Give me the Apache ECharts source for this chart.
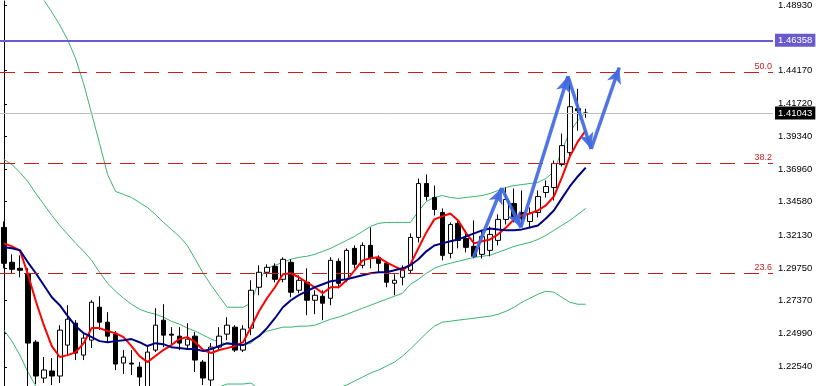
<!DOCTYPE html>
<html><head><meta charset="utf-8">
<script src="https://cdn.jsdelivr.net/npm/echarts@6/dist/echarts.min.js"></script>
<style>html,body{margin:0;padding:0;background:#fff}#c{width:816px;height:386px}</style>
</head><body><div id="c"></div>
<script>
// candles: [open, close, low, high]
const candles = [
[1.32705,1.30085,1.29722,1.33141],[1.30158,1.29649,1.29358,1.30740],[1.29722,1.29576,1.29067,1.30667],
[1.29358,1.24265,1.20990,1.29722],[1.24337,1.21864,1.21282,1.24483],[1.21718,1.22300,1.21354,1.23246],
[1.22227,1.21864,1.21209,1.23173],[1.21864,1.25211,1.21354,1.25574],[1.24119,1.26011,1.23392,1.27030],
[1.25719,1.23537,1.23028,1.25938],[1.23392,1.24628,1.23028,1.24920],[1.24483,1.27248,1.23901,1.27393],
[1.26884,1.25793,1.25211,1.27684],[1.25793,1.24774,1.24337,1.26520],[1.24920,1.22737,1.22300,1.25138],
[1.22810,1.23246,1.22009,1.23755],[1.22810,1.22737,1.21936,1.23755],[1.22518,1.21791,1.21136,1.22882],
[1.20990,1.23610,1.20845,1.24119],[1.23755,1.25574,1.23610,1.26811],[1.25938,1.24847,1.23974,1.27102],
[1.24920,1.24847,1.24119,1.25429],[1.24774,1.24265,1.23755,1.25429],[1.24119,1.24556,1.23901,1.25719],
[1.24774,1.23028,1.22155,1.25065],[1.22882,1.21718,1.21209,1.23028],[1.21573,1.23974,1.21136,1.24265],
[1.23974,1.24774,1.23683,1.25429],[1.24920,1.25574,1.24483,1.26156],[1.25429,1.23755,1.23610,1.25574],
[1.23755,1.25283,1.23610,1.25574],[1.25356,1.28121,1.24847,1.28849],[1.28339,1.29431,1.27757,1.29940],
[1.29431,1.29794,1.29067,1.30013],[1.29867,1.28921,1.28703,1.30085],[1.28921,1.30376,1.28703,1.30522],
[1.30158,1.27975,1.27612,1.30376],[1.28121,1.28849,1.27903,1.29212],[1.28703,1.27393,1.26302,1.29722],
[1.27393,1.27757,1.26375,1.28121],[1.27684,1.27175,1.25938,1.28121],[1.27539,1.30304,1.27030,1.30522],
[1.30231,1.28630,1.28266,1.30449],[1.28921,1.31031,1.28703,1.31177],[1.31177,1.30013,1.29722,1.31395],
[1.29940,1.31395,1.29722,1.31613],[1.31395,1.30449,1.29722,1.32705],[1.30522,1.30085,1.29431,1.30667],
[1.30085,1.28703,1.28339,1.30231],[1.28630,1.28849,1.27757,1.29285],[1.29067,1.29576,1.28485,1.29940],
[1.29576,1.31977,1.29358,1.32268],[1.31977,1.35906,1.31613,1.36270],[1.35906,1.34960,1.34669,1.36561],
[1.34887,1.34014,1.33578,1.35761],[1.33796,1.30667,1.30304,1.34087],[1.30813,1.32923,1.30449,1.33069],
[1.32996,1.31759,1.31177,1.33287],[1.31904,1.31250,1.30886,1.32486],[1.31322,1.30595,1.30449,1.33214],
[1.30740,1.32050,1.30449,1.32486],[1.31031,1.32195,1.30595,1.32778],[1.31759,1.33287,1.31395,1.33651],
[1.33287,1.34742,1.32923,1.35615],[1.34451,1.33432,1.33069,1.35542],[1.33796,1.33360,1.32778,1.35397],
[1.33141,1.33723,1.32632,1.34160],[1.33796,1.34960,1.33432,1.35397],[1.35251,1.35688,1.34887,1.36124],
[1.35615,1.37361,1.34669,1.37580],[1.37289,1.38671,1.37143,1.39544],[1.38162,1.41509,1.37798,1.43546],
[1.41363,1.41217,1.39762,1.42818],[1.41050,1.41043,1.40708,1.41363]
];
const maFast = [1.3154,1.3132,1.3103,1.2929,1.2732,1.2557,1.2405,1.2325,1.2339,1.2361,1.2426,1.2536,1.2536,1.2514,1.2499,1.2470,1.2405,1.2332,1.2288,1.2332,1.2376,1.2412,1.2456,1.2470,1.2433,1.2376,1.2354,1.2376,1.2390,1.2405,1.2433,1.2543,1.2659,1.2754,1.2834,1.2929,1.2936,1.2907,1.2870,1.2834,1.2790,1.2834,1.2834,1.2885,1.2958,1.3030,1.3045,1.3052,1.3016,1.2987,1.2958,1.3001,1.3118,1.3234,1.3329,1.3351,1.3372,1.3321,1.3227,1.3154,1.3169,1.3183,1.3220,1.3270,1.3329,1.3358,1.3372,1.3394,1.3431,1.3496,1.3634,1.3787,1.3896,1.3976];
const maSlow = [1.3125,1.3118,1.3103,1.3016,1.2936,1.2849,1.2761,1.2703,1.2623,1.2550,1.2499,1.2470,1.2441,1.2433,1.2441,1.2448,1.2456,1.2433,1.2405,1.2426,1.2419,1.2397,1.2390,1.2383,1.2383,1.2368,1.2383,1.2405,1.2426,1.2419,1.2412,1.2441,1.2477,1.2536,1.2608,1.2688,1.2739,1.2776,1.2805,1.2834,1.2856,1.2878,1.2885,1.2892,1.2907,1.2921,1.2936,1.2943,1.2943,1.2958,1.2972,1.2994,1.3038,1.3096,1.3139,1.3154,1.3169,1.3183,1.3205,1.3227,1.3249,1.3263,1.3256,1.3249,1.3249,1.3256,1.3270,1.3285,1.3336,1.3394,1.3482,1.3569,1.3642,1.3707];
const bbUpper = [1.5024,1.5053,1.5068,1.5053,1.5002,1.4929,1.4842,1.4747,1.4638,1.4500,1.4318,1.4100,1.3882,1.3656,1.3533,1.3511,1.3489,1.3452,1.3416,1.3365,1.3307,1.3256,1.3205,1.3139,1.3038,1.2936,1.2849,1.2768,1.2688,1.2688,1.2688,1.2718,1.2885,1.2972,1.2994,1.3016,1.3038,1.3052,1.3060,1.3074,1.3096,1.3118,1.3147,1.3176,1.3205,1.3241,1.3278,1.3300,1.3307,1.3307,1.3307,1.3307,1.3387,1.3460,1.3489,1.3503,1.3489,1.3482,1.3489,1.3496,1.3503,1.3518,1.3540,1.3562,1.3576,1.3583,1.3591,1.3598,1.3627,1.3678,1.3831,1.3969,1.4049,1.4107];
const bbMiddle = [1.3765,1.3729,1.3671,1.3605,1.3518,1.3438,1.3358,1.3285,1.3220,1.3154,1.3096,1.3030,1.2943,1.2863,1.2805,1.2754,1.2710,1.2674,1.2652,1.2637,1.2616,1.2586,1.2565,1.2536,1.2514,1.2485,1.2456,1.2433,1.2419,1.2412,1.2412,1.2426,1.2485,1.2514,1.2528,1.2543,1.2543,1.2550,1.2550,1.2557,1.2579,1.2601,1.2616,1.2637,1.2659,1.2681,1.2703,1.2725,1.2747,1.2768,1.2790,1.2856,1.2892,1.2936,1.2972,1.2994,1.3009,1.3023,1.3038,1.3052,1.3060,1.3067,1.3089,1.3110,1.3132,1.3147,1.3161,1.3183,1.3212,1.3249,1.3285,1.3321,1.3365,1.3409];
const bbLower = [1.2521,1.2441,1.2339,1.2215,1.2113,1.1946,1.1874,1.1823,1.1801,1.1808,1.1874,1.1961,1.2004,1.2048,1.2063,1.2012,1.1954,1.1910,1.1895,1.1910,1.1924,1.1924,1.1932,1.1954,1.1997,1.2041,1.2077,1.2106,1.2128,1.2128,1.2128,1.2135,1.2092,1.2063,1.2063,1.2063,1.2048,1.2048,1.2041,1.2041,1.2063,1.2085,1.2099,1.2121,1.2150,1.2179,1.2208,1.2230,1.2259,1.2288,1.2332,1.2383,1.2441,1.2499,1.2550,1.2579,1.2586,1.2594,1.2601,1.2608,1.2616,1.2623,1.2637,1.2659,1.2688,1.2725,1.2754,1.2783,1.2805,1.2798,1.2761,1.2725,1.2710,1.2710];
const yTicks = [1.48930,1.44170,1.41720,1.39340,1.36960,1.34580,1.32130,1.29750,1.27370,1.24990,1.22540];
const resistanceLevel = 1.46358;
const lastPrice = 1.41043;
const fibNames = ['50.0','38.2','23.6'];
const fibValues = [1.44055,1.37412,1.29358];
const arrowX = [58.92,62.45,64.86,70.77,73.68,77.21];
const arrowY = [1.3052,1.3558,1.3270,1.4373,1.3843,1.4437];
const slotCount = 97;
const yMin = 1.21136, yMax = 1.49221;

const slots = Array.from({length: slotCount}, (_, i) => String(i));
const chart = echarts.init(document.getElementById('c'), null, {renderer: 'canvas'});
const arrowSegs = [];
for (let i = 0; i < arrowX.length - 1; i++) {
  arrowSegs.push([{coord: [arrowX[i], arrowY[i]]}, {coord: [arrowX[i+1], arrowY[i+1]]}]);
}
const bandStyle = {color: '#3cb371', width: 1};
const fibRed = '#c41e1e';
chart.setOption({
  animation: false,
  backgroundColor: '#fff',
  grid: {left: -4.7, right: 43, top: 0, bottom: 0, containLabel: false},
  xAxis: [
    {type: 'category', data: slots, boundaryGap: true, show: false},
    {type: 'value', min: -0.5, max: slotCount - 0.5, show: false}
  ],
  yAxis: {
    type: 'value', position: 'right', min: yMin, max: yMax, scale: true,
    axisLine: {show: true, lineStyle: {color: '#000', width: 1}},
    axisTick: {show: true, inside: false, length: 3, customValues: yTicks, lineStyle: {color: '#000'}},
    axisLabel: {show: true, margin: 5, customValues: yTicks, color: '#000', fontSize: 9.5,
      fontFamily: 'Liberation Sans', formatter: v => v.toFixed(5)},
    splitLine: {show: false}
  },
  series: [
    {type: 'line', name: 'upper', data: bbUpper, showSymbol: false, symbol: 'none', lineStyle: bandStyle, z: 2, silent: true},
    {type: 'line', name: 'middle', data: bbMiddle, showSymbol: false, symbol: 'none', lineStyle: bandStyle, z: 2, silent: true},
    {type: 'line', name: 'lower', data: bbLower, showSymbol: false, symbol: 'none', lineStyle: bandStyle, z: 2, silent: true},
    {type: 'candlestick', name: 'price', data: candles, barWidth: 5, z: 3,
      itemStyle: {color: '#fff', color0: '#000', borderColor: '#000', borderColor0: '#000', borderColorDoji: '#000', borderWidth: 1},
      markLine: {
        silent: true, symbol: ['none','none'], animation: false, precision: 5,
        data: [
          {yAxis: resistanceLevel, lineStyle: {color: '#6a5acd', width: 2, type: 'solid'},
            label: {show: true, position: 'end', distance: 2, formatter: resistanceLevel.toFixed(5), color: '#fff',
              backgroundColor: '#6a5acd', padding: [2, 3, 1, 3], fontSize: 9.5, fontFamily: 'Liberation Sans'}},
          {yAxis: lastPrice, lineStyle: {color: '#c0c0c0', width: 1, type: 'solid'},
            label: {show: true, position: 'end', distance: 2, formatter: lastPrice.toFixed(5), color: '#fff',
              backgroundColor: '#000', padding: [2, 3, 1, 3], fontSize: 9.5, fontFamily: 'Liberation Sans'}},
          ...fibValues.map((v, i) => ({yAxis: v, lineStyle: {color: fibRed, width: 1, type: [15, 9]},
            label: {show: true, position: 'insideEndTop', distance: [1, 1], formatter: fibNames[i], color: fibRed,
              fontSize: 9, fontFamily: 'Liberation Sans'}}))
        ]
      }
    },
    {type: 'line', name: 'fast', data: maFast, showSymbol: false, symbol: 'none', lineStyle: {color: '#ff0000', width: 2}, z: 4, silent: true},
    {type: 'line', name: 'slow', data: maSlow, showSymbol: false, symbol: 'none', lineStyle: {color: '#000080', width: 2}, z: 4, silent: true},
    {type: 'line', name: 'arrows', xAxisIndex: 1, data: [], z: 5,
      markLine: {silent: true, animation: false, precision: 5, symbol: ['none', 'arrow'], symbolSize: [11, 16],
        lineStyle: {color: 'rgba(65,105,225,0.92)', width: 3.5, type: 'solid'},
        label: {show: false}, data: arrowSegs}}
  ]
});
</script></body></html>
